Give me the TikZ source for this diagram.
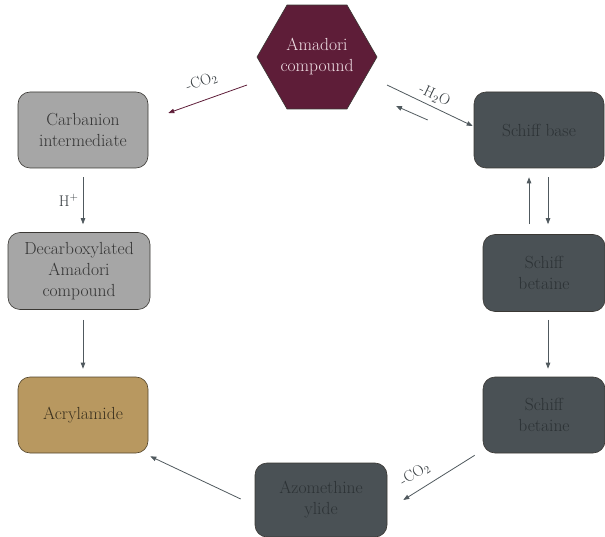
\documentclass[tikz,border=0pt]{standalone}
\usetikzlibrary{arrows.meta,calc,positioning,shapes.geometric}
\definecolor{amadorired}{RGB}{94,29,56}
\definecolor{hexatext}{RGB}{240,224,230}
\definecolor{schiffgray}{RGB}{74,81,85}
\definecolor{schifftext}{RGB}{44,50,53}
\definecolor{carbgray}{RGB}{166,166,166}
\definecolor{carbtext}{RGB}{52,52,52}
\definecolor{acrylbrown}{RGB}{184,152,96}
\definecolor{acryltext}{RGB}{58,48,30}
\definecolor{boxline}{RGB}{58,56,52}
\definecolor{arrowgray}{RGB}{80,89,94}
\tikzset{
    cycle diagram/.style = {x=1pt, y=-1pt,
                            >={Triangle[length=6pt, width=4.5pt]},
                            font=\fontsize{17.5}{21}\selectfont},
    box/.style       = {draw=boxline, line width=0.6pt, rounded corners=12pt,
                        align=center, inner sep=2pt,
                        minimum width=130pt, minimum height=76pt},
    darkbox/.style   = {box, fill=schiffgray, text=schifftext,
                        minimum width=122pt},
    lightbox/.style  = {box, fill=carbgray, text=carbtext},
    hexa/.style      = {regular polygon, regular polygon sides=6,
                        minimum size=120pt, inner sep=0pt, align=center,
                        draw=boxline, line width=0.6pt,
                        fill=amadorired, text=hexatext},
    line/.style      = {->, line width=0.8pt, draw=arrowgray},
    rxn/.style       = {font=\fontsize{15.5}{17}\selectfont,
                        text=arrowgray!70!black, inner sep=1pt}
}

\begin{document}
\begin{tikzpicture}[cycle diagram]
\useasboundingbox (0,0) rectangle (605,537);

% Starting compound at the top.
\node[hexa] (amadori) at (317,57) {Amadori\\compound};

% Decarboxylation branch on the left.
\node[lightbox] (carb) at (83,130) {Carbanion\\intermediate};
\node[lightbox, minimum width=142pt, minimum height=77pt]
    (decarb) at (79,271) {Decarboxylated\\Amadori\\compound};
\node[box, fill=acrylbrown, text=acryltext, draw=acryltext!80!acrylbrown]
    (acryl) at (83,415) {Acrylamide};

% Schiff base route on the right and bottom.
\node[darkbox, minimum width=130pt] (base) at (539,130) {Schiff base};
\node[darkbox, minimum height=77pt] (bet1) at (544,273) {Schiff\\betaine};
\node[darkbox] (bet2) at (544,415) {Schiff\\betaine};
\node[darkbox, minimum width=132pt, minimum height=74pt]
    (azo) at (321,500) {Azomethine\\ylide};

% Arrows leaving the Amadori compound.
\draw[line, draw=amadorired] ($(amadori.center)+(-70,28)$)
    -- node[rxn, sloped, above=10pt] {-CO\textsubscript{2}}
    ($(carb.east)+(20,-17)$);
\draw[line] ($(amadori.center)+(70,28)$)
    -- node[rxn, sloped, above=3pt] {-H\textsubscript{2}O}
    ($(base.west)+(-1,-4)$);
\draw[line] ($(base.west)+(-46,-10)$) -- ($(amadori.center)+(79,49)$);

% Left column.
\draw[line, shorten <=9pt, shorten >=8pt] (carb.south)
    -- node[rxn, left=3pt] {H\textsuperscript{+}} (carb.south |- decarb.north);
\draw[line, shorten <=10pt, shorten >=8pt]
    (decarb.south -| acryl.north) -- (acryl.north);

% Right column.
\draw[line, shorten <=10pt, shorten >=9pt]
    ([xshift=-10pt]base.south |- bet1.north) -- ([xshift=-10pt]base.south);
\draw[line, shorten <=9pt, shorten >=10pt]
    ([xshift=9pt]base.south) -- ([xshift=9pt]base.south |- bet1.north);
\draw[line, shorten <=8pt, shorten >=8pt]
    ([xshift=4pt]bet1.south) -- ([xshift=4pt]bet2.north);

% Bottom of the cycle.
\draw[line] ($(bet2.south west)+(-8,2)$)
    -- node[rxn, sloped, above=8pt, pos=0.72] {-CO\textsubscript{2}}
    ($(azo.east)+(16,0)$);
\draw[line] ($(azo.west)+(-14,-1)$) -- ($(acryl.south east)+(2,3)$);

\end{tikzpicture}
\end{document}
